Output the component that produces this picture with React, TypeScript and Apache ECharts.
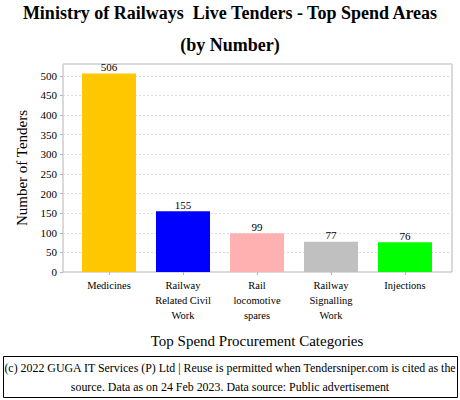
import React, { useEffect, useRef } from "react";
import * as echarts from "echarts";

const categories = ["Medicines", "Railway\nRelated Civil\nWork", "Rail\nlocomotive\nspares", "Railway\nSignalling\nWork", "Injections"];
const values = [506, 155, 99, 77, 76];
const colors = ["#FFC700", "#0000FF", "#FFB0B0", "#C0C0C0", "#00FF00"];
const yMin = 0;
const yMax = 530;
const yInterval = 50;
const titleLines = ["Ministry of Railways  Live Tenders - Top Spend Areas", "(by Number)"];
const footerLines = [
  "(c) 2022 GUGA IT Services (P) Ltd | Reuse is permitted when Tendersniper.com is cited as the",
  "source. Data as on 24 Feb 2023. Data source: Public advertisement",
];
const yName = "Number of Tenders";
const xName = "Top Spend Procurement Categories";

const FONT = "Liberation Serif";

export default function App() {
  const ref = useRef<HTMLDivElement>(null);
  useEffect(() => {
    document.body.style.margin = "0";
    const chart = echarts.init(ref.current!, null, { renderer: "svg" });
    chart.setOption({
      animation: false,
      backgroundColor: "#fff",
      textStyle: { fontFamily: FONT },
      title: [
        {
          text: titleLines[0].replace("  ", "\u00a0\u00a0"),
          left: "center",
          top: -1,
          textStyle: { fontFamily: FONT, fontWeight: "bold", fontSize: 18, color: "#000" },
        },
        {
          text: titleLines[1],
          left: "center",
          top: 31,
          textStyle: { fontFamily: FONT, fontWeight: "bold", fontSize: 18, color: "#000" },
        },
      ],
      grid: [
        { left: 63, top: 64, width: 389, height: 208, show: true, borderColor: "#b4b4b4", borderWidth: 1 },
        { left: 72, top: 64, width: 370, height: 208 },
      ],
      xAxis: [
        {
          gridIndex: 0,
          type: "category",
          data: ["a"],
          show: false,
        },
        {
          gridIndex: 1,
          type: "category",
          data: categories,
          axisLine: { show: false },
          axisTick: { show: true, alignWithLabel: true, length: 3, lineStyle: { color: "#b4b4b4" } },
          axisLabel: {
            interval: 0,
            margin: 6,
            formatter: (v: string) => v.split("\n").map((s) => "{c|" + s + "}").join("\n"),
            rich: { c: { fontFamily: FONT, fontSize: 10.5, color: "#000", lineHeight: 15 } },
          },
          name: xName,
          nameLocation: "middle",
          nameGap: 61,
          nameTextStyle: { fontFamily: FONT, fontSize: 15, color: "#000" },
        },
      ],
      yAxis: [
        {
          gridIndex: 0,
          type: "value",
          min: yMin,
          max: yMax,
          interval: yInterval,
          axisLine: { show: false },
          axisTick: { show: true, length: 3, lineStyle: { color: "#b4b4b4" } },
          axisLabel: {
            margin: 6,
            showMaxLabel: false,
            formatter: (v: number) => "{n|" + v + "}",
            rich: { n: { fontFamily: FONT, fontSize: 11, color: "#000" } },
          },
          splitLine: { show: true, lineStyle: { color: "#dcdcdc", type: [2, 2] } },
          name: yName,
          nameLocation: "middle",
          nameGap: 34,
          nameTextStyle: { fontFamily: FONT, fontSize: 15, color: "#000" },
        },
        {
          gridIndex: 1,
          type: "value",
          min: yMin,
          max: yMax,
          interval: yInterval,
          show: false,
        },
      ],
      series: [
        {
          type: "bar",
          xAxisIndex: 1,
          yAxisIndex: 1,
          barWidth: 54,
          data: values.map((v, i) => ({ value: v, itemStyle: { color: colors[i] } })),
          label: {
            show: true,
            position: "top",
            distance: 1,
            fontFamily: FONT,
            fontSize: 11,
            color: "#000",
          },
        },
      ],
      graphic: [
        {
          type: "rect",
          shape: { x: 3.5, y: 356.5, width: 454, height: 41 },
          style: { fill: "none", stroke: "#000", lineWidth: 1 },
        },
        {
          type: "text",
          x: 230,
          y: 368,
          style: {
            text: footerLines[0],
            fontFamily: FONT,
            fontSize: 11.9,
            fill: "#000",
            textAlign: "center",
            textVerticalAlign: "middle",
          },
        },
        {
          type: "text",
          x: 230,
          y: 387,
          style: {
            text: footerLines[1],
            fontFamily: FONT,
            fontSize: 11.9,
            fill: "#000",
            textAlign: "center",
            textVerticalAlign: "middle",
          },
        },
      ],
    });
    return () => chart.dispose();
  }, []);
  return <div ref={ref} style={{ width: 460, height: 400 }} />;
}
